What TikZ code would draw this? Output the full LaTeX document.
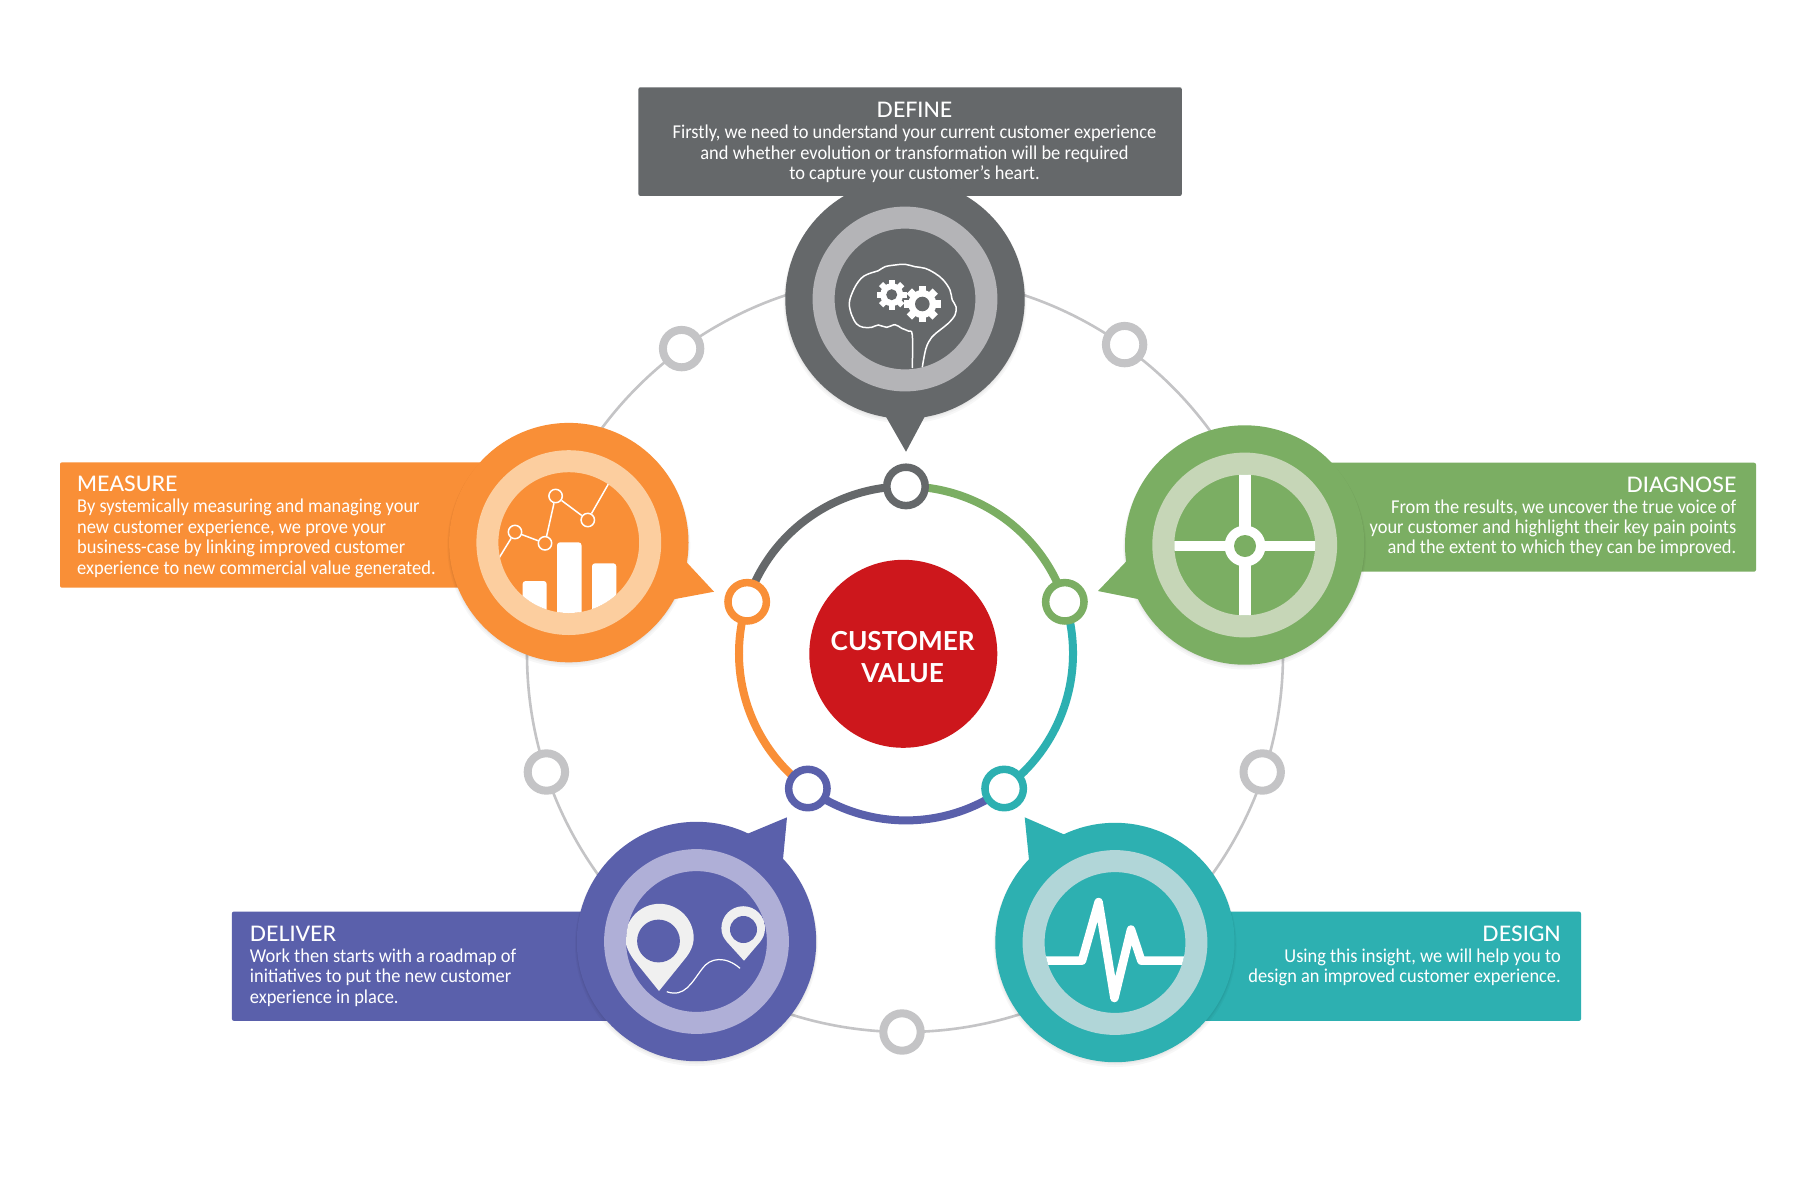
\documentclass[tikz,border=0pt]{standalone}
\usepackage{fontspec}
\setmainfont{Lato}
\newfontfamily\bodyf[FakeStretch=0.94]{Carlito}
\newfontfamily\medf{Lato Bold}
\newfontfamily\headf{Lato Medium}
\usetikzlibrary{calc}
\definecolor{cgray}{HTML}{65686A}
\definecolor{cgreen}{HTML}{7BAE63}
\definecolor{cteal}{HTML}{2DB0B1}
\definecolor{cpurple}{HTML}{5A60AB}
\definecolor{corange}{HTML}{F98F37}
\definecolor{cred}{HTML}{CD171C}
\definecolor{rgray}{HTML}{B4B4B7}
\definecolor{rgreen}{HTML}{C6D6B7}
\definecolor{rteal}{HTML}{B1D6D8}
\definecolor{rpurple}{HTML}{AFAFD7}
\definecolor{rorange}{HTML}{FCCE9F}
\definecolor{cline}{HTML}{C4C4C6}
\definecolor{cpin}{HTML}{F0F0F0}
\newcommand{\titlef}{\headf\fontsize{21.4}{23}\selectfont}
\tikzset{
  x=1pt,y=-1pt,
  bubble/.style={circle,inner sep=0pt,minimum size=239.4pt,fill=#1},
  halo/.style={circle,inner sep=0pt,minimum size=#1,fill=black,fill opacity=0.03},
  band/.style={circle,inner sep=0pt,minimum size=162.8pt,line width=22pt,draw=#1},
  panel/.style={rectangle,inner sep=0pt,rounded corners=2pt,fill=#1},
  dot/.style={circle,inner sep=0pt,minimum size=38.4pt,line width=7.5pt,draw=#1,fill=white},
  greydot/.style={circle,inner sep=0pt,minimum size=37.4pt,line width=8pt,draw=cline,fill=white},
  seg/.style={line width=8pt,draw=#1},
  body/.style={text=white,inner sep=0pt,font=\bodyf\fontsize{19.6}{20.4}\selectfont},
  thin icon/.style={draw=white,line width=1.5pt},
}
\newcommand{\shadowed}[1]{%
  \node[halo=243pt] at ($(#1)+(0,3)$) {};
  \node[halo=241pt] at ($(#1)+(0,2)$) {};
  \node[halo=240pt] at ($(#1)+(0,1)$) {};
}
\newcommand{\gearicon}[4]{% centre, body radius, tooth radius, tooth width
  \fill[white] (#1) circle[radius=#2 pt];
  \foreach \a in {0,45,...,315}{\draw[white,line width=#4 pt] (#1) -- ++(\a:#3 pt);}
}
\begin{document}
\begin{tikzpicture}
\useasboundingbox (0,0) rectangle (1800,1200);
\fill[white] (0,0) rectangle (1800,1200);

% ---- outer grey circle
\coordinate (outerc) at (905,654);
\draw[cline,line width=2.6pt] (outerc) circle[radius=378pt];
\node[greydot] (g1) at (681.6,348.6) {};
\node[greydot] (g2) at (1124.6,344.6) {};
\node[greydot] (g3) at (546.4,772) {};
\node[greydot] (g4) at (1262.2,772) {};
\node[greydot] (g5) at (902,1032) {};

% ---- inner ring
\coordinate (ringc) at (906,653.4);
\draw[seg=cgray] ([shift={(90:167pt)}]ringc) arc[start angle=90,end angle=162,radius=167pt];
\draw[seg=cgreen] ([shift={(90:167pt)}]ringc) arc[start angle=90,end angle=18,radius=167pt];
\draw[seg=cteal] ([shift={(18:167pt)}]ringc) arc[start angle=18,end angle=-54,radius=167pt];
\draw[seg=cpurple] ([shift={(-54:167pt)}]ringc) arc[start angle=-54,end angle=-126,radius=167pt];
\draw[seg=corange] ([shift={(-126:167pt)}]ringc) arc[start angle=-126,end angle=-198,radius=167pt];
\node[dot=cgray] (d1) at ([shift={(90:167pt)}]ringc) {};
\node[dot=cgreen] (d2) at ([shift={(18:167pt)}]ringc) {};
\node[dot=cteal] (d3) at ([shift={(-54:167pt)}]ringc) {};
\node[dot=cpurple] (d4) at ([shift={(-126:167pt)}]ringc) {};
\node[dot=corange] (d5) at ([shift={(162:167pt)}]ringc) {};

% ---- centre
\node[circle,inner sep=0pt,minimum size=188pt,fill=cred] (hub) at (903.3,653.8) {};
\node[text=white,align=center,inner sep=0pt,font=\medf\fontsize{26.2}{32}\selectfont] (hubtext) at (902.7,657) {CUSTOMER\\VALUE};

% ---- panels
\node[panel=cgray,minimum width=543.4pt,minimum height=108.7pt] (pdefine) at (910.1,141.6) {};
\node[panel=corange,minimum width=440pt,minimum height=125.4pt] (pmeasure) at (280,525) {};
\node[panel=cgreen,minimum width=430pt,minimum height=109pt] (pdiagnose) at (1541,517.2) {};
\node[panel=cpurple,minimum width=400pt,minimum height=109.3pt] (pdeliver) at (431.9,966.2) {};
\node[panel=cteal,minimum width=400pt,minimum height=109.3pt] (pdesign) at (1381,966.2) {};

% ---- bubbles
\coordinate (cdefine) at (905,299);
\coordinate (cmeasure) at (568.8,542.6);
\coordinate (cdiagnose) at (1244.7,545);
\coordinate (cdeliver) at (696.5,941.5);
\coordinate (cdesign) at (1115,942.5);
\foreach \c in {cdefine,cmeasure,cdiagnose,cdeliver,cdesign}{\shadowed{\c}}
\fill[cgray] (879.3,405) -- (906,451.7) -- (930.9,405) -- cycle;
\fill[corange] (678.9,554) -- (714,591.7) -- (663.3,601.2) -- cycle;
\fill[cgreen] (1134.4,552.9) -- (1098,591) -- (1150,601.4) -- cycle;
\fill[cpurple] (737.2,838.1) -- (787,817.3) -- (781.8,871.9) -- cycle;
\fill[cteal] (1074.5,839) -- (1024.7,817.3) -- (1030.3,872.8) -- cycle;
\node[bubble=cgray] (bdefine) at (cdefine) {};
\node[bubble=corange] (bmeasure) at (cmeasure) {};
\node[bubble=cgreen] (bdiagnose) at (cdiagnose) {};
\node[bubble=cpurple] (bdeliver) at (cdeliver) {};
\node[bubble=cteal] (bdesign) at (cdesign) {};
\node[band=rgray] at (cdefine) {};
\node[band=rorange] at (cmeasure) {};
\node[band=rgreen] at (cdiagnose) {};
\node[band=rpurple] at (cdeliver) {};
\node[band=rteal] at (cdesign) {};

% ---- icon: brain + gears
\begin{scope}
\clip (cdefine) circle[radius=70.4pt];
\draw[thin icon] plot[smooth,tension=0.6] coordinates {
 (912.3,368) (912.3,335) (908.3,331) (901.7,328.3) (895,324.7) (886.7,327.3) (878.3,325) (871.7,327.3)
 (863.3,327.3) (856.7,324) (851.7,315) (849.3,303.3) (852.7,291.7) (858.3,281.7) (864,276) (871.7,272.7)
 (878.3,270.7) (885,266.7) (895,265) (905,264.3) (915,266.7) (925,268.3) (935,273.3) (943.3,280)
 (950,290) (952.3,300) (956,306.7) (955,315) (948.3,323.3) (940,330) (931.7,337.3) (926,348.3) (922.3,367.3)};
\gearicon{891.7,294.7}{11.5}{15}{6}
\fill[cgray] (891.7,294.7) circle[radius=5.5pt];
\gearicon{922.3,304}{14}{18.3}{7.5}
\fill[cgray] (922.3,304) circle[radius=7.3pt];
\end{scope}

% ---- icon: measure
\begin{scope}
\clip (cmeasure) circle[radius=70.4pt];
\fill[white,rounded corners=3pt] (522.6,640) -- (522.6,581) -- (546.7,581) -- (546.7,640) -- cycle;
\fill[white,rounded corners=3pt] (557,640) -- (557,542.3) -- (581.5,542.3) -- (581.5,640) -- cycle;
\fill[white,rounded corners=3pt] (592,640) -- (592,563.3) -- (616.3,563.3) -- (616.3,640) -- cycle;
\node[circle,inner sep=0pt,minimum size=13.4pt,thin icon] (m1) at (515,532) {};
\node[circle,inner sep=0pt,minimum size=13.4pt,thin icon] (m2) at (545,543.3) {};
\node[circle,inner sep=0pt,minimum size=13.4pt,thin icon] (m3) at (555.6,496) {};
\node[circle,inner sep=0pt,minimum size=13.4pt,thin icon] (m4) at (587.8,520) {};
\coordinate (mstart) at (499,558);
\coordinate (mend) at (609.5,482);
\draw[thin icon] (mstart) -- (m1) -- (m2) -- (m3) -- (m4) -- (mend);
\end{scope}

% ---- icon: diagnose
\begin{scope}
\clip (cdiagnose) circle[radius=70.4pt];
\fill[white] (1239.4,470) rectangle (1250.5,620);
\fill[white] (1170,540.7) rectangle (1320,551.3);
\fill[white] (1245,546) circle[radius=20.5pt];
\fill[cgreen] (1245,546) circle[radius=11pt];
\end{scope}

% ---- icon: deliver
\begin{scope}
\clip (cdeliver) circle[radius=70.4pt];
\fill[cpin] (659,991) -- (634,960) .. controls (629,953) and (625.3,946) .. (625.3,938)
  arc[start angle=180,end angle=0,radius=34.2pt]
  .. controls (693.5,946) and (690,953) .. (684,960) -- cycle;
\fill[cpurple] (658.5,941) circle[radius=21.4pt];
\fill[cpin] (744,960.7) -- (727,942) .. controls (723.5,938) and (721.4,934) .. (721.4,928)
  arc[start angle=180,end angle=0,radius=21.8pt]
  .. controls (765,934) and (763,938) .. (760,942) -- cycle;
\fill[cpurple] (743.5,929.5) circle[radius=13.5pt];
\draw[thin icon,line width=1.2pt] (666.8,991.7) .. controls (684.7,998) and (692,982) .. (702,969)
  .. controls (710,957) and (726,956) .. (740,968.3);
\end{scope}

% ---- icon: design
\begin{scope}
\clip (cdesign) circle[radius=70.4pt];
\draw[white,line width=8.5pt,line join=round,line cap=round]
 (1040,960.7) -- (1082,960.7) -- (1098.6,902) -- (1114.4,998) -- (1131,929.5) -- (1141.3,960.7) -- (1190,960.7);
\end{scope}

% ---- texts
\node[body,align=center] (tdefine) at (914.5,142.4) {{\titlef DEFINE}\\[0.6pt]Firstly, we need to understand your current customer experience\\and whether evolution or transformation will be required\\to capture your customer’s heart.};
\node[body,align=left,anchor=west] (tmeasure) at (77,526.9) {{\titlef MEASURE}\\[0.6pt]By systemically measuring and managing your\\new customer experience, we prove your\\business-case by linking improved customer\\experience to new commercial value generated.};
\node[body,align=right,anchor=east] (tdiagnose) at (1736.5,516.9) {{\titlef DIAGNOSE}\\[0.6pt]From the results, we uncover the true voice of\\your customer and highlight their key pain points\\and the extent to which they can be improved.};
\node[body,align=left,anchor=west] (tdeliver) at (249.7,966.2) {{\titlef DELIVER}\\[0.6pt]Work then starts with a roadmap of\\initiatives to put the new customer\\experience in place.};
\node[body,align=right,anchor=east] (tdesign) at (1561,956.2) {{\titlef DESIGN}\\[0.6pt]Using this insight, we will help you to\\design an improved customer experience.};
\end{tikzpicture}
\end{document}
